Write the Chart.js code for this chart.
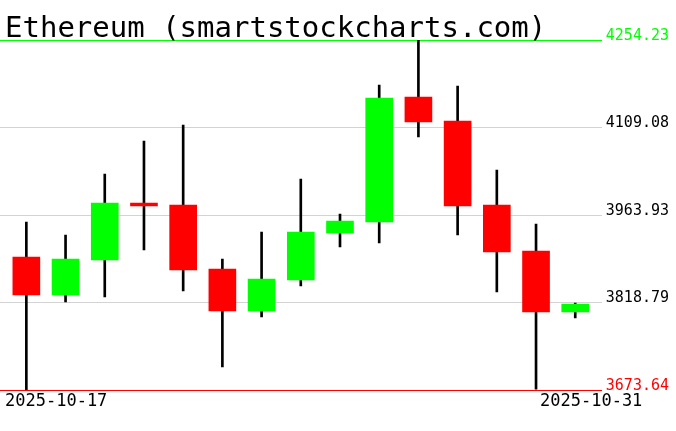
<!DOCTYPE html>
<html>
<head>
<meta charset="utf-8">
<script src="https://cdn.jsdelivr.net/npm/chart.js@4/dist/chart.umd.min.js"></script>
<style>
  html, body { margin: 0; padding: 0; background: #ffffff; }
  #wrap { width: 676px; height: 431px; }
</style>
</head>
<body>
<div id="wrap"><canvas id="c" width="676" height="431"></canvas></div>
<script>
const titleText = 'Ethereum (smartstockcharts.com)';
const dates  = ['2025-10-17','2025-10-18','2025-10-19','2025-10-20','2025-10-21','2025-10-22','2025-10-23','2025-10-24','2025-10-25','2025-10-26','2025-10-27','2025-10-28','2025-10-29','2025-10-30','2025-10-31'];
const opens  = [3894.3, 3831.2, 3889.3, 3983.8, 3980.5, 3874.4, 3804.7, 3856.1, 3934.1, 3952.3, 4159.7, 4119.9, 3980.5, 3904.2, 3803.0];
const highs  = [3952.3, 3930.8, 4031.9, 4086.7, 4113.2, 3890.9, 3935.7, 4023.6, 3965.6, 4179.6, 4254.23, 4177.9, 4038.6, 3949.0, 3818.0];
const lows   = [3673.64, 3819.6, 3827.9, 3905.9, 3837.9, 3711.8, 3794.7, 3846.2, 3910.8, 3917.5, 4093.3, 3930.8, 3836.2, 3675.0, 3793.1];
const closes = [3831.2, 3890.9, 3983.8, 3978.9, 3872.7, 3804.7, 3857.8, 3935.7, 3954.0, 4158.0, 4118.2, 3978.9, 3902.6, 3803.0, 3816.3];
const yTicks = [3673.64, 3818.79, 3963.93, 4109.08, 4254.23];
const dateLabels = ['2025-10-17', '2025-10-31'];

const UP = '#00ff00', DOWN = '#ff0000';
const bodyData = dates.map((d, i) => ({ x: i, y: [opens[i], closes[i]] }));
const wickData = dates.map((d, i) => ({ x: i, y: [lows[i], highs[i]] }));
const bodyColors = dates.map((d, i) => closes[i] >= opens[i] ? UP : DOWN);

const MONO = "'DejaVu Sans Mono', 'Liberation Mono', monospace";

const textPlugin = {
  id: 'texts',
  afterDraw(chart) {
    const ctx = chart.ctx;
    ctx.save();
    ctx.fillStyle = '#000000';
    ctx.textBaseline = 'alphabetic';
    ctx.textAlign = 'left';
    ctx.font = '29px ' + MONO;
    ctx.fillText(titleText, 5, 37);
    ctx.font = '17px ' + MONO;
    ctx.fillText(dateLabels[0], 5, 406);
    ctx.fillText(dateLabels[1], 540, 406);
    ctx.restore();
  }
};

new Chart(document.getElementById('c'), {
  type: 'bar',
  data: {
    datasets: [
      {
        label: 'body',
        data: bodyData,
        backgroundColor: bodyColors,
        borderWidth: 0,
        barThickness: 27,
        grouped: false,
        order: 0
      },
      {
        label: 'wick',
        data: wickData,
        backgroundColor: '#000000',
        borderWidth: 0,
        barThickness: 2,
        grouped: false,
        order: 1
      }
    ]
  },
  options: {
    responsive: false,
    animation: false,
    devicePixelRatio: 1,
    layout: { padding: { top: 40, bottom: 41, left: 0, right: 3 } },
    plugins: { legend: { display: false }, title: { display: false }, tooltip: { enabled: false } },
    scales: {
      x: {
        type: 'linear',
        display: false,
        min: -0.672,
        max: 14.677,
        offset: false
      },
      y: {
        position: 'right',
        min: yTicks[0],
        max: yTicks[yTicks.length - 1],
        afterBuildTicks: (scale) => { scale.ticks = yTicks.map(v => ({ value: v })); },
        border: { display: false },
        grid: {
          drawTicks: false,
          lineWidth: 1,
          color: (c) => c.index === 0 ? DOWN : (c.index === yTicks.length - 1 ? UP : '#d3d3d3')
        },
        ticks: {
          padding: 4,
          labelOffset: -4,
          font: { family: MONO, size: 15 },
          color: (c) => c.index === 0 ? DOWN : (c.index === yTicks.length - 1 ? UP : '#000000'),
          callback: (v) => Number(v).toFixed(2)
        }
      }
    }
  },
  plugins: [textPlugin]
});
</script>
</body>
</html>
